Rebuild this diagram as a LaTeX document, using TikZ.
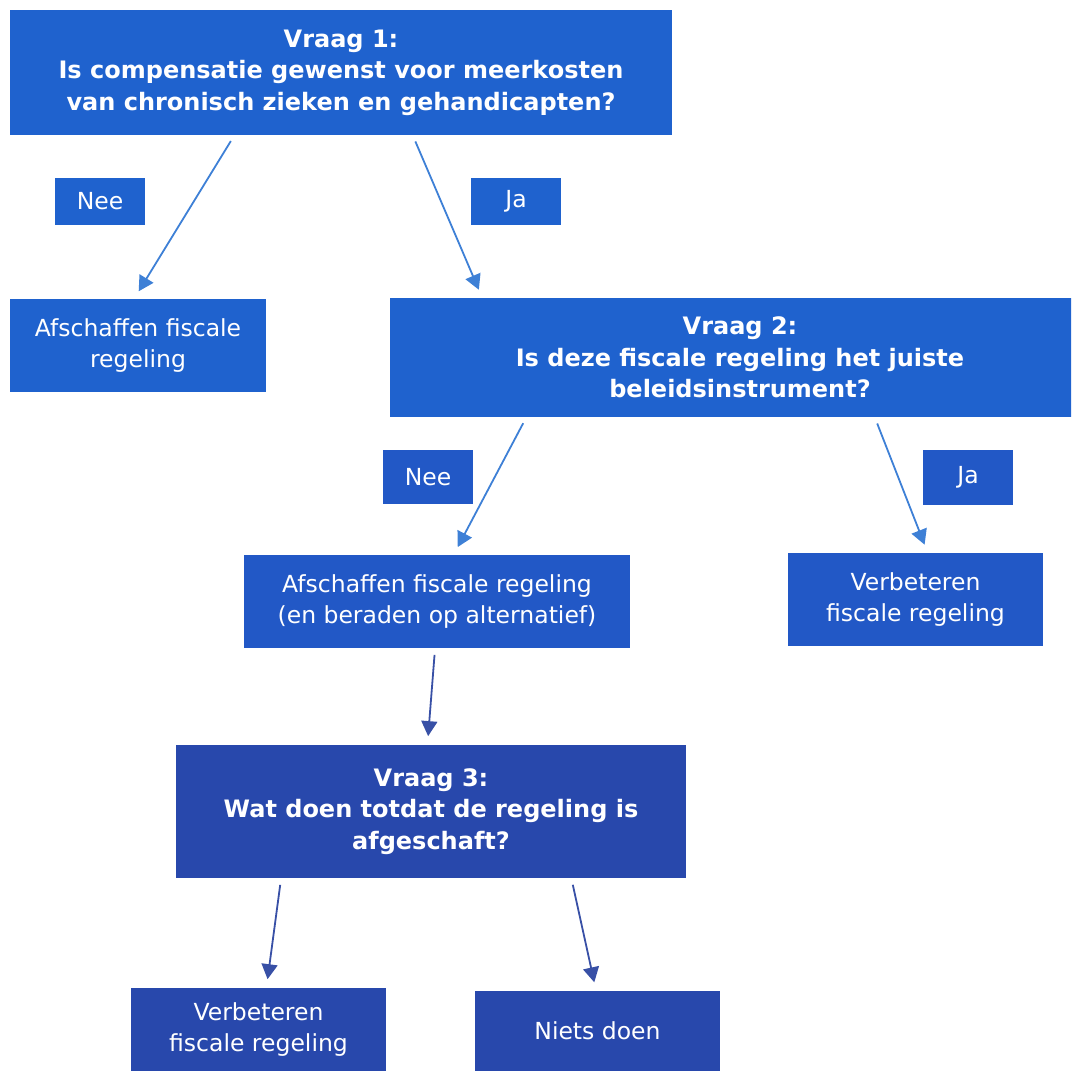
\documentclass[tikz,border=0pt]{standalone}
\usepackage{fontspec}
\setmainfont{DejaVu Sans}
\usetikzlibrary{arrows.meta}

\definecolor{vraagblue}{RGB}{31,98,206}
\definecolor{midblue}{RGB}{34,88,198}
\definecolor{darkblue}{RGB}{40,72,172}
\definecolor{linkblue}{RGB}{62,128,214}
\definecolor{linkdark}{RGB}{56,80,166}

\begin{document}
\begin{tikzpicture}[
	x = 1pt, y = -1pt, % pixel grid, y runs down
	> = {Triangle[length=15pt, width=16pt]}, % arrow head style
	line width = 1.8pt
	]
	
	\tikzstyle{box}=[
	fill = vraagblue,
	text = white,
	align = center,
	inner sep = 0pt,
	font = \fontsize{23.5}{31}\selectfont
	]
	\tikzstyle{vraag}=[box, font = \fontsize{24}{31.5}\selectfont\bfseries]
	\tikzstyle{link}=[->, draw = linkblue, shorten < = 6pt, shorten > = 8pt]
	
	\useasboundingbox (0,0) rectangle (1071,1071);
	\clip (0,0) rectangle (1071,1071);
	
	% vraag 1
	\node[vraag, minimum width=662pt, minimum height=125pt] (q1) at (341,72.5)
	{Vraag 1:\\Is compensatie gewenst voor meerkosten\\van chronisch zieken en gehandicapten?};
	\node[box, minimum width=90pt, minimum height=47pt] (nee1) at (100,201.5) {Nee};
	\node[box, minimum width=90pt, minimum height=47pt] (ja1) at (516,201.5) {Ja};
	\node[box, minimum width=256pt, minimum height=93pt] (afs1) at (138,345.5)
	{Afschaffen fiscale\\regeling};
	
	% vraag 2
	\node[vraag, minimum width=700pt, minimum height=119pt] (q2) at (740,357.5)
	{Vraag 2:\\Is deze fiscale regeling het juiste\\beleidsinstrument?};
	\node[box, fill=midblue, minimum width=90pt, minimum height=54pt] (nee2) at (428,477) {Nee};
	\node[box, fill=midblue, minimum width=90pt, minimum height=55pt] (ja2) at (968,477.5) {Ja};
	\node[box, fill=midblue, minimum width=386pt, minimum height=93pt] (afs2) at (437,601.5)
	{Afschaffen fiscale regeling\\(en beraden op alternatief)};
	\node[box, fill=midblue, minimum width=255pt, minimum height=93pt] (ver2) at (915.5,599.5)
	{Verbeteren\\fiscale regeling};
	
	% vraag 3
	\node[vraag, fill=darkblue, minimum width=510pt, minimum height=133pt] (q3) at (431,811.5)
	{Vraag 3:\\Wat doen totdat de regeling is\\afgeschaft?};
	\node[box, fill=darkblue, minimum width=255pt, minimum height=83pt] (ver3) at (258.5,1029.5)
	{Verbeteren\\fiscale regeling};
	\node[box, fill=darkblue, minimum width=245pt, minimum height=80pt] (niets) at (597.5,1031)
	{Niets doen};
	
	\draw[link] ([xshift=-107pt]q1.south) -- ([xshift=-3.5pt]afs1.north);
	\draw[link] ([xshift=72pt]q1.south) -- ([xshift=-258pt]q2.north);
	\draw[link] ([xshift=-214pt]q2.south) -- ([xshift=17pt]afs2.north);
	\draw[link] ([xshift=135pt]q2.south) -- ([xshift=12pt]ver2.north);
	\draw[link, draw=linkdark] ([xshift=-2pt]afs2.south) -- ([xshift=-3.5pt]q3.north);
	\draw[link, draw=linkdark] ([xshift=-150pt]q3.south) -- ([xshift=8pt]ver3.north);
	\draw[link, draw=linkdark] ([xshift=140.5pt]q3.south) -- ([xshift=-1.5pt]niets.north);
	
\end{tikzpicture}
\end{document}
